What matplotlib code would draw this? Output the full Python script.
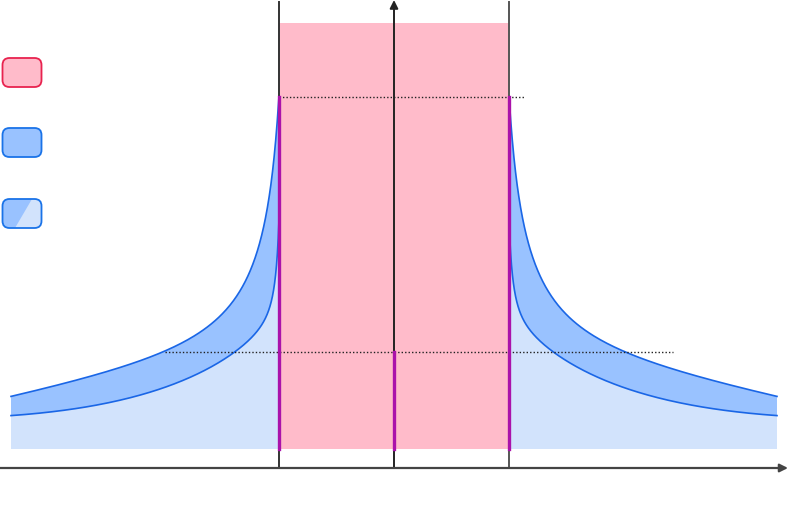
import numpy as np
import matplotlib
matplotlib.use("Agg")
import matplotlib.pyplot as plt
from matplotlib.patches import Rectangle, FancyBboxPatch, Polygon

# points (pixel units, y grows downward), left side of the well
upper_x = [11, 33, 67, 100, 133, 163, 187, 207, 227, 240, 253, 263, 268.5, 273, 276.5, 279]
upper_y = [394, 391, 384, 376, 365, 352, 338, 325, 307, 290, 267, 233, 200, 165, 130, 97]
lower_x = [11, 50, 100, 150, 183, 213, 238, 253, 265, 271.7, 276, 277.7, 278.7, 279]
lower_y = [416, 412, 404, 392, 380, 365, 352, 337, 317, 297, 273, 250, 230, 215]

center = 394
well_left, well_right = 279, 509
well_top, base = 23, 449
level_high, level_low = 97, 352
axis_y = 468

pink = "#FFBBCA"
light_blue = "#D2E3FC"
mid_blue = "#99C2FF"
line_blue = "#1A66E6"
magenta = "#AA12AA"


def smooth(xs, ys, n=300):
    # smooth curve through the read points: height fitted against the distance
    # from the wall on a log scale, only used for drawing
    d = well_left - np.asarray(xs, float)
    y = np.asarray(ys, float)
    u = np.log(d + 5)
    coef = np.polyfit(u, y, 4)
    uu = np.linspace(u.min(), u.max(), n)
    return well_left - (np.exp(uu) - 5), np.polyval(coef, uu)   # wall -> outside


fig = plt.figure(figsize=(7.9, 5.09), dpi=100)
ax = fig.add_axes([0, 0, 1, 1])
ax.set_xlim(0, 790)
ax.set_ylim(509, 0)
ax.axis("off")

ux, uy = smooth(upper_x, upper_y)
lx, ly = smooth(lower_x, lower_y)

for side in (1, -1):
    # mirror the left side about the vertical axis
    sux = ux if side == 1 else 2 * center - ux
    slx = lx if side == 1 else 2 * center - lx
    wall = well_left if side == 1 else well_right
    light = np.vstack([np.column_stack([sux, uy]), [[sux[-1], base], [wall, base]]])
    ax.add_patch(Polygon(light, closed=True, facecolor=light_blue, edgecolor="none", zorder=1))
    band = np.vstack([np.column_stack([sux, uy]),
                      np.column_stack([slx[::-1], ly[::-1]])])
    ax.add_patch(Polygon(band, closed=True, facecolor=mid_blue, edgecolor="none", zorder=2))
    ax.plot(sux, uy, color=line_blue, lw=1.2, zorder=3)
    ax.plot(slx, ly, color=line_blue, lw=1.2, zorder=3)

# the well
ax.add_patch(Rectangle((well_left, well_top), well_right - well_left, base - well_top,
                       facecolor=pink, edgecolor="none", zorder=4))

# dotted levels
ax.plot([well_left, 525], [level_high, level_high], color="#222", lw=1, ls=(0, (1, 1.5)), zorder=5)
ax.plot([165, 673], [level_low, level_low], color="#222", lw=1, ls=(0, (1, 1.5)), zorder=5)

# walls
ax.plot([well_left, well_left], [2, axis_y], color="#333", lw=1.4, zorder=6)
ax.plot([well_right, well_right], [2, axis_y], color="#555", lw=1.4, zorder=6)

# axes with arrows
ax.annotate("", xy=(center, 0), xytext=(center, axis_y),
            arrowprops=dict(arrowstyle="-|>", color="#222", lw=1.4, mutation_scale=12,
                            shrinkA=0, shrinkB=0), zorder=7)
ax.annotate("", xy=(788, axis_y), xytext=(0, axis_y),
            arrowprops=dict(arrowstyle="-|>", color="#444", lw=1.6, mutation_scale=12,
                            shrinkA=0, shrinkB=0), zorder=7)

# magenta segments
ax.plot([well_left, well_left], [level_high, base], color=magenta, lw=2.4, zorder=8)
ax.plot([well_right, well_right], [level_high, base], color=magenta, lw=2.4, zorder=8)
ax.plot([center, center], [level_low, base], color=magenta, lw=2.4, zorder=8)

# legend swatches
box_w, box_h = 39, 29
box_tops = [58, 128, 199]


def swatch(y0, face, edge, z=9):
    p = FancyBboxPatch((2.5, y0), box_w, box_h, boxstyle="round,pad=0,rounding_size=7",
                       facecolor=face, edgecolor=edge, lw=1.3, zorder=z)
    ax.add_patch(p)
    return p


swatch(box_tops[0], pink, "#E8234F")
swatch(box_tops[1], mid_blue, "#1A73E8")
p = swatch(box_tops[2], light_blue, "none")
tri = Polygon([[0, box_tops[2]], [32, box_tops[2]], [15, box_tops[2] + box_h], [0, box_tops[2] + box_h]],
              closed=True, facecolor=mid_blue, edgecolor="none", zorder=9.5)
ax.add_patch(tri)
tri.set_clip_path(p)
swatch(box_tops[2], "none", "#1A73E8", z=10)

fig.savefig("out.png", dpi=100)
